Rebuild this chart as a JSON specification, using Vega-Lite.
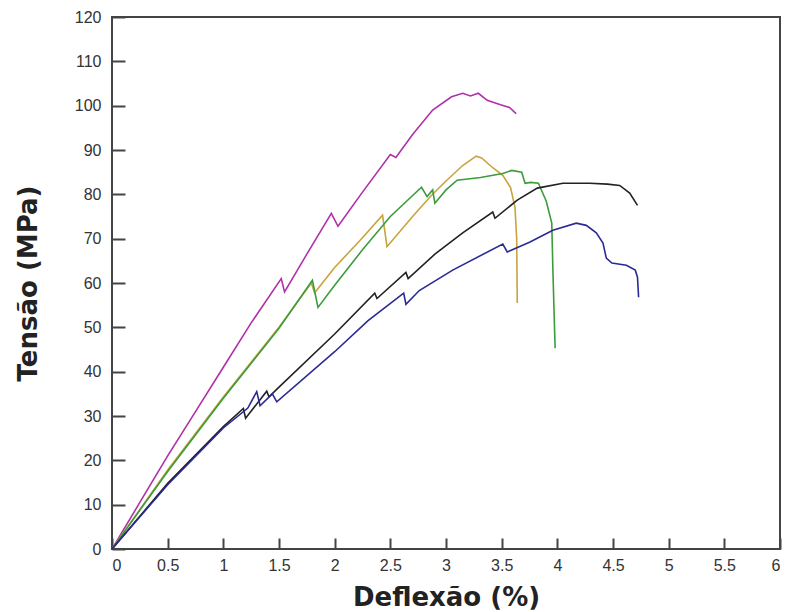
{
  "$schema": "https://vega.github.io/schema/vega-lite/v6.json",
  "width": 668,
  "height": 532,
  "autosize": {"type": "none"},
  "padding": {"left": 112, "top": 17, "right": 17, "bottom": 63},
  "background": "white",
  "config": {
    "view": {"stroke": "#444", "strokeWidth": 2},
    "axis": {
      "grid": false,
      "domain": false,
      "ticks": true,
      "tickColor": "#444",
      "tickWidth": 2,
      "tickOpacity": 1,
      "labelFont": "Liberation Sans",
      "labelFontSize": 16,
      "labelColor": "#333",
      "titleFont": "DejaVu Sans",
      "titleFontSize": 26,
      "titleFontWeight": "bold",
      "titleColor": "#222",
      "zindex": 1
    }
  },
  "data": {
    "values": [
      {"s": "magenta", "i": 0, "x": 0, "y": 0},
      {"s": "magenta", "i": 1, "x": 0.25, "y": 10.5},
      {"s": "magenta", "i": 2, "x": 0.5, "y": 21},
      {"s": "magenta", "i": 3, "x": 0.75, "y": 31},
      {"s": "magenta", "i": 4, "x": 1.0, "y": 41},
      {"s": "magenta", "i": 5, "x": 1.25, "y": 51},
      {"s": "magenta", "i": 6, "x": 1.52, "y": 61},
      {"s": "magenta", "i": 7, "x": 1.55, "y": 58},
      {"s": "magenta", "i": 8, "x": 1.75, "y": 66.5},
      {"s": "magenta", "i": 9, "x": 1.97, "y": 75.7},
      {"s": "magenta", "i": 10, "x": 2.03, "y": 72.8},
      {"s": "magenta", "i": 11, "x": 2.25, "y": 80.5},
      {"s": "magenta", "i": 12, "x": 2.5, "y": 89},
      {"s": "magenta", "i": 13, "x": 2.55, "y": 88.3},
      {"s": "magenta", "i": 14, "x": 2.7, "y": 93.5},
      {"s": "magenta", "i": 15, "x": 2.88, "y": 99},
      {"s": "magenta", "i": 16, "x": 3.05, "y": 102},
      {"s": "magenta", "i": 17, "x": 3.15, "y": 102.8},
      {"s": "magenta", "i": 18, "x": 3.22, "y": 102.2},
      {"s": "magenta", "i": 19, "x": 3.29, "y": 102.8},
      {"s": "magenta", "i": 20, "x": 3.37, "y": 101.2},
      {"s": "magenta", "i": 21, "x": 3.49, "y": 100.2},
      {"s": "magenta", "i": 22, "x": 3.57, "y": 99.6},
      {"s": "magenta", "i": 23, "x": 3.63, "y": 98.2},

      {"s": "yellow", "i": 0, "x": 0, "y": 0},
      {"s": "yellow", "i": 1, "x": 0.5, "y": 17.8},
      {"s": "yellow", "i": 2, "x": 1.0, "y": 34.3},
      {"s": "yellow", "i": 3, "x": 1.5, "y": 50},
      {"s": "yellow", "i": 4, "x": 1.79, "y": 60},
      {"s": "yellow", "i": 5, "x": 1.82, "y": 57.8},
      {"s": "yellow", "i": 6, "x": 2.0, "y": 63.5},
      {"s": "yellow", "i": 7, "x": 2.25, "y": 70.2},
      {"s": "yellow", "i": 8, "x": 2.43, "y": 75.3},
      {"s": "yellow", "i": 9, "x": 2.47, "y": 68.2},
      {"s": "yellow", "i": 10, "x": 2.7, "y": 75},
      {"s": "yellow", "i": 11, "x": 2.86, "y": 79.5},
      {"s": "yellow", "i": 12, "x": 3.0, "y": 83},
      {"s": "yellow", "i": 13, "x": 3.15, "y": 86.5},
      {"s": "yellow", "i": 14, "x": 3.27, "y": 88.6},
      {"s": "yellow", "i": 15, "x": 3.32, "y": 88.2},
      {"s": "yellow", "i": 16, "x": 3.42, "y": 86},
      {"s": "yellow", "i": 17, "x": 3.51, "y": 84.3},
      {"s": "yellow", "i": 18, "x": 3.58, "y": 81.5},
      {"s": "yellow", "i": 19, "x": 3.62, "y": 77},
      {"s": "yellow", "i": 20, "x": 3.635, "y": 70},
      {"s": "yellow", "i": 21, "x": 3.64, "y": 55.5},

      {"s": "green", "i": 0, "x": 0, "y": 0},
      {"s": "green", "i": 1, "x": 0.5, "y": 17.5},
      {"s": "green", "i": 2, "x": 1.0, "y": 34},
      {"s": "green", "i": 3, "x": 1.5, "y": 49.8},
      {"s": "green", "i": 4, "x": 1.8, "y": 60.6},
      {"s": "green", "i": 5, "x": 1.85, "y": 54.5},
      {"s": "green", "i": 6, "x": 2.0, "y": 59.5},
      {"s": "green", "i": 7, "x": 2.25, "y": 67.5},
      {"s": "green", "i": 8, "x": 2.5, "y": 75},
      {"s": "green", "i": 9, "x": 2.78, "y": 81.6},
      {"s": "green", "i": 10, "x": 2.83, "y": 79.5},
      {"s": "green", "i": 11, "x": 2.88, "y": 81},
      {"s": "green", "i": 12, "x": 2.9, "y": 78},
      {"s": "green", "i": 13, "x": 3.0, "y": 81},
      {"s": "green", "i": 14, "x": 3.1, "y": 83.2},
      {"s": "green", "i": 15, "x": 3.31, "y": 83.8},
      {"s": "green", "i": 16, "x": 3.51, "y": 84.7},
      {"s": "green", "i": 17, "x": 3.59, "y": 85.4},
      {"s": "green", "i": 18, "x": 3.68, "y": 85},
      {"s": "green", "i": 19, "x": 3.71, "y": 82.5},
      {"s": "green", "i": 20, "x": 3.76, "y": 82.7},
      {"s": "green", "i": 21, "x": 3.83, "y": 82.5},
      {"s": "green", "i": 22, "x": 3.9, "y": 78.5},
      {"s": "green", "i": 23, "x": 3.95, "y": 73.5},
      {"s": "green", "i": 24, "x": 3.96, "y": 63},
      {"s": "green", "i": 25, "x": 3.98, "y": 45.3},

      {"s": "black", "i": 0, "x": 0, "y": 0},
      {"s": "black", "i": 1, "x": 0.5, "y": 14.8},
      {"s": "black", "i": 2, "x": 1.0, "y": 27.6},
      {"s": "black", "i": 3, "x": 1.18, "y": 31.7},
      {"s": "black", "i": 4, "x": 1.2, "y": 29.5},
      {"s": "black", "i": 5, "x": 1.39, "y": 35.6},
      {"s": "black", "i": 6, "x": 1.41, "y": 34.3},
      {"s": "black", "i": 7, "x": 1.5, "y": 36.5},
      {"s": "black", "i": 8, "x": 2.0, "y": 48.5},
      {"s": "black", "i": 9, "x": 2.36, "y": 57.7},
      {"s": "black", "i": 10, "x": 2.38, "y": 56.5},
      {"s": "black", "i": 11, "x": 2.64, "y": 62.4},
      {"s": "black", "i": 12, "x": 2.66, "y": 61},
      {"s": "black", "i": 13, "x": 2.9, "y": 66.5},
      {"s": "black", "i": 14, "x": 3.15, "y": 71.3},
      {"s": "black", "i": 15, "x": 3.42, "y": 76},
      {"s": "black", "i": 16, "x": 3.44, "y": 74.6},
      {"s": "black", "i": 17, "x": 3.64, "y": 78.7},
      {"s": "black", "i": 18, "x": 3.82, "y": 81.4},
      {"s": "black", "i": 19, "x": 4.05, "y": 82.5},
      {"s": "black", "i": 20, "x": 4.29, "y": 82.5},
      {"s": "black", "i": 21, "x": 4.45, "y": 82.3},
      {"s": "black", "i": 22, "x": 4.56, "y": 82},
      {"s": "black", "i": 23, "x": 4.65, "y": 80.3},
      {"s": "black", "i": 24, "x": 4.72, "y": 77.5},

      {"s": "blue", "i": 0, "x": 0, "y": 0},
      {"s": "blue", "i": 1, "x": 0.5, "y": 14.5},
      {"s": "blue", "i": 2, "x": 1.0, "y": 27.3},
      {"s": "blue", "i": 3, "x": 1.22, "y": 31.8},
      {"s": "blue", "i": 4, "x": 1.3, "y": 35.5},
      {"s": "blue", "i": 5, "x": 1.33, "y": 32.3},
      {"s": "blue", "i": 6, "x": 1.44, "y": 35},
      {"s": "blue", "i": 7, "x": 1.48, "y": 33.2},
      {"s": "blue", "i": 8, "x": 2.0, "y": 44.5},
      {"s": "blue", "i": 9, "x": 2.3, "y": 51.5},
      {"s": "blue", "i": 10, "x": 2.62, "y": 57.7},
      {"s": "blue", "i": 11, "x": 2.64, "y": 55.2},
      {"s": "blue", "i": 12, "x": 2.76, "y": 58.3},
      {"s": "blue", "i": 13, "x": 3.06, "y": 62.9},
      {"s": "blue", "i": 14, "x": 3.51, "y": 68.8},
      {"s": "blue", "i": 15, "x": 3.55, "y": 67},
      {"s": "blue", "i": 16, "x": 3.75, "y": 69.2},
      {"s": "blue", "i": 17, "x": 3.96, "y": 71.9},
      {"s": "blue", "i": 18, "x": 4.17, "y": 73.5},
      {"s": "blue", "i": 19, "x": 4.26, "y": 73},
      {"s": "blue", "i": 20, "x": 4.35, "y": 71.3},
      {"s": "blue", "i": 21, "x": 4.41, "y": 69},
      {"s": "blue", "i": 22, "x": 4.44, "y": 65.6},
      {"s": "blue", "i": 23, "x": 4.49, "y": 64.5},
      {"s": "blue", "i": 24, "x": 4.62, "y": 64},
      {"s": "blue", "i": 25, "x": 4.7, "y": 62.9},
      {"s": "blue", "i": 26, "x": 4.72, "y": 61.3},
      {"s": "blue", "i": 27, "x": 4.73, "y": 56.8}
    ]
  },
  "mark": {"type": "line", "strokeWidth": 1.6, "clip": true},
  "encoding": {
    "x": {
      "field": "x",
      "type": "quantitative",
      "title": "Deflexão (%)",
      "scale": {"domain": [0, 6], "nice": false},
      "axis": {"values": [0, 0.5, 1, 1.5, 2, 2.5, 3, 3.5, 4, 4.5, 5, 5.5, 6], "format": "~g", "offset": -11, "tickSize": 11, "labelPadding": 8, "titlePadding": 11}
    },
    "y": {
      "field": "y",
      "type": "quantitative",
      "title": "Tensão (MPa)",
      "scale": {"domain": [0, 120], "nice": false},
      "axis": {"values": [0, 10, 20, 30, 40, 50, 60, 70, 80, 90, 100, 110, 120], "offset": -13, "tickSize": 13, "labelPadding": 11, "titlePadding": 33}
    },
    "color": {
      "field": "s",
      "type": "nominal",
      "scale": {
        "domain": ["magenta", "yellow", "green", "black", "blue"],
        "range": ["#b030a8", "#c9a43c", "#3c9c3c", "#222222", "#2a2a96"]
      },
      "legend": null
    },
    "order": {"field": "i", "type": "quantitative"}
  }
}
